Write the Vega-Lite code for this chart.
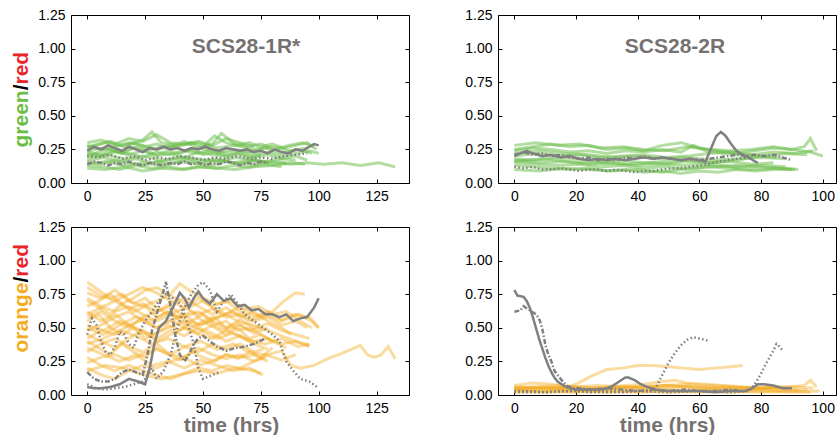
{
"$schema":"https://vega.github.io/schema/vega-lite/v6.json",
"padding":{"left":10,"top":8,"right":0,"bottom":0},
"config":{"font":"Liberation Sans","view":{"stroke":null},"axis":{"grid":false,"domainColor":"#000","domainWidth":1,"tickColor":"#000","tickSize":-4,"labelColor":"#000","labelFont":"Liberation Sans","labelFontSize":14,"titleFont":"Liberation Sans","titleFontSize":21,"titleFontWeight":"bold"},"title":{"font":"Liberation Sans","fontSize":21,"fontWeight":"bold","color":"#767171"}},
"datasets":{
"tlc":[
{"s":"g1","t":0,"v":0.30},{"s":"g1","t":6,"v":0.32},{"s":"g1","t":12,"v":0.29},{"s":"g1","t":18,"v":0.33},{"s":"g1","t":24,"v":0.31},{"s":"g1","t":30,"v":0.36},{"s":"g1","t":36,"v":0.30},{"s":"g1","t":42,"v":0.29},{"s":"g1","t":48,"v":0.31},{"s":"g1","t":54,"v":0.28},{"s":"g1","t":60,"v":0.33},{"s":"g1","t":66,"v":0.30},{"s":"g1","t":72,"v":0.27},
{"s":"g2","t":0,"v":0.27},{"s":"g2","t":5,"v":0.29},{"s":"g2","t":10,"v":0.31},{"s":"g2","t":15,"v":0.28},{"s":"g2","t":20,"v":0.30},{"s":"g2","t":25,"v":0.27},{"s":"g2","t":30,"v":0.29},{"s":"g2","t":35,"v":0.26},{"s":"g2","t":40,"v":0.28},{"s":"g2","t":45,"v":0.30},{"s":"g2","t":50,"v":0.27},{"s":"g2","t":55,"v":0.35},{"s":"g2","t":60,"v":0.30},{"s":"g2","t":65,"v":0.28},{"s":"g2","t":70,"v":0.30},{"s":"g2","t":75,"v":0.27},{"s":"g2","t":80,"v":0.29},{"s":"g2","t":85,"v":0.26},{"s":"g2","t":90,"v":0.28},{"s":"g2","t":95,"v":0.30},{"s":"g2","t":99,"v":0.25},
{"s":"g3","t":0,"v":0.24},{"s":"g3","t":7,"v":0.26},{"s":"g3","t":14,"v":0.23},{"s":"g3","t":21,"v":0.27},{"s":"g3","t":28,"v":0.25},{"s":"g3","t":35,"v":0.28},{"s":"g3","t":42,"v":0.24},{"s":"g3","t":49,"v":0.26},{"s":"g3","t":56,"v":0.22},{"s":"g3","t":63,"v":0.25},{"s":"g3","t":70,"v":0.23},{"s":"g3","t":77,"v":0.26},{"s":"g3","t":84,"v":0.22},{"s":"g3","t":91,"v":0.25},{"s":"g3","t":97,"v":0.22},
{"s":"g4","t":0,"v":0.22},{"s":"g4","t":6,"v":0.20},{"s":"g4","t":12,"v":0.23},{"s":"g4","t":18,"v":0.21},{"s":"g4","t":24,"v":0.24},{"s":"g4","t":30,"v":0.20},{"s":"g4","t":36,"v":0.22},{"s":"g4","t":42,"v":0.19},{"s":"g4","t":48,"v":0.23},{"s":"g4","t":54,"v":0.21},{"s":"g4","t":60,"v":0.20},{"s":"g4","t":66,"v":0.22},{"s":"g4","t":72,"v":0.19},{"s":"g4","t":78,"v":0.21},{"s":"g4","t":84,"v":0.18},{"s":"g4","t":90,"v":0.20},{"s":"g4","t":95,"v":0.17},
{"s":"g5","t":0,"v":0.19},{"s":"g5","t":8,"v":0.21},{"s":"g5","t":16,"v":0.18},{"s":"g5","t":24,"v":0.20},{"s":"g5","t":32,"v":0.17},{"s":"g5","t":40,"v":0.19},{"s":"g5","t":48,"v":0.18},{"s":"g5","t":56,"v":0.16},{"s":"g5","t":64,"v":0.19},{"s":"g5","t":72,"v":0.17},{"s":"g5","t":80,"v":0.15},{"s":"g5","t":88,"v":0.14},{"s":"g5","t":95,"v":0.15},{"s":"g5","t":102,"v":0.14},{"s":"g5","t":110,"v":0.15},{"s":"g5","t":118,"v":0.13},{"s":"g5","t":126,"v":0.15},{"s":"g5","t":133,"v":0.12},
{"s":"g6","t":0,"v":0.16},{"s":"g6","t":6,"v":0.14},{"s":"g6","t":12,"v":0.17},{"s":"g6","t":18,"v":0.15},{"s":"g6","t":24,"v":0.13},{"s":"g6","t":30,"v":0.16},{"s":"g6","t":36,"v":0.14},{"s":"g6","t":42,"v":0.17},{"s":"g6","t":48,"v":0.15},{"s":"g6","t":54,"v":0.13},{"s":"g6","t":60,"v":0.16},{"s":"g6","t":66,"v":0.14},{"s":"g6","t":72,"v":0.17},{"s":"g6","t":78,"v":0.15},
{"s":"g7","t":0,"v":0.13},{"s":"g7","t":7,"v":0.12},{"s":"g7","t":14,"v":0.10},{"s":"g7","t":21,"v":0.13},{"s":"g7","t":28,"v":0.11},{"s":"g7","t":35,"v":0.12},{"s":"g7","t":42,"v":0.10},{"s":"g7","t":49,"v":0.12},{"s":"g7","t":56,"v":0.11},{"s":"g7","t":63,"v":0.13},{"s":"g7","t":70,"v":0.12},{"s":"g7","t":77,"v":0.14},{"s":"g7","t":84,"v":0.12},
{"s":"g8","t":0,"v":0.11},{"s":"g8","t":8,"v":0.10},{"s":"g8","t":16,"v":0.12},{"s":"g8","t":24,"v":0.09},{"s":"g8","t":32,"v":0.11},{"s":"g8","t":40,"v":0.10},{"s":"g8","t":48,"v":0.12},{"s":"g8","t":56,"v":0.11},{"s":"g8","t":64,"v":0.10},{"s":"g8","t":72,"v":0.12},{"s":"g8","t":80,"v":0.13},{"s":"g8","t":88,"v":0.15},{"s":"g8","t":94,"v":0.14},
{"s":"g9","t":0,"v":0.28},{"s":"g9","t":6,"v":0.25},{"s":"g9","t":12,"v":0.27},{"s":"g9","t":18,"v":0.30},{"s":"g9","t":24,"v":0.28},{"s":"g9","t":30,"v":0.25},{"s":"g9","t":36,"v":0.27},{"s":"g9","t":42,"v":0.31},{"s":"g9","t":48,"v":0.26},{"s":"g9","t":54,"v":0.29},{"s":"g9","t":58,"v":0.37},{"s":"g9","t":63,"v":0.30},{"s":"g9","t":69,"v":0.27},{"s":"g9","t":75,"v":0.29},{"s":"g9","t":81,"v":0.25},{"s":"g9","t":87,"v":0.28},{"s":"g9","t":93,"v":0.30},{"s":"g9","t":98,"v":0.27},
{"s":"g10","t":0,"v":0.20},{"s":"g10","t":5,"v":0.23},{"s":"g10","t":10,"v":0.25},{"s":"g10","t":15,"v":0.22},{"s":"g10","t":20,"v":0.26},{"s":"g10","t":25,"v":0.24},{"s":"g10","t":30,"v":0.21},{"s":"g10","t":35,"v":0.24},{"s":"g10","t":40,"v":0.22},{"s":"g10","t":45,"v":0.25},{"s":"g10","t":50,"v":0.21},{"s":"g10","t":55,"v":0.23},{"s":"g10","t":60,"v":0.20},{"s":"g10","t":65,"v":0.22},{"s":"g10","t":70,"v":0.19},{"s":"g10","t":75,"v":0.21},
{"s":"g11","t":0,"v":0.26},{"s":"g11","t":8,"v":0.30},{"s":"g11","t":16,"v":0.27},{"s":"g11","t":24,"v":0.32},{"s":"g11","t":28,"v":0.38},{"s":"g11","t":32,"v":0.30},{"s":"g11","t":40,"v":0.28},{"s":"g11","t":48,"v":0.30},{"s":"g11","t":56,"v":0.26},{"s":"g11","t":64,"v":0.28},{"s":"g11","t":72,"v":0.25},{"s":"g11","t":80,"v":0.27},{"s":"g11","t":88,"v":0.24},{"s":"g11","t":95,"v":0.26},
{"s":"g12","t":0,"v":0.17},{"s":"g12","t":7,"v":0.19},{"s":"g12","t":14,"v":0.16},{"s":"g12","t":21,"v":0.18},{"s":"g12","t":28,"v":0.15},{"s":"g12","t":35,"v":0.17},{"s":"g12","t":42,"v":0.19},{"s":"g12","t":49,"v":0.16},{"s":"g12","t":56,"v":0.18},{"s":"g12","t":63,"v":0.15},{"s":"g12","t":70,"v":0.17},{"s":"g12","t":77,"v":0.16},{"s":"g12","t":84,"v":0.18},{"s":"g12","t":90,"v":0.17},
{"s":"g13","t":0,"v":0.23},{"s":"g13","t":6,"v":0.21},{"s":"g13","t":12,"v":0.24},{"s":"g13","t":18,"v":0.22},{"s":"g13","t":24,"v":0.19},{"s":"g13","t":30,"v":0.23},{"s":"g13","t":36,"v":0.21},{"s":"g13","t":42,"v":0.24},{"s":"g13","t":48,"v":0.22},{"s":"g13","t":54,"v":0.25},{"s":"g13","t":60,"v":0.22},{"s":"g13","t":66,"v":0.24},{"s":"g13","t":72,"v":0.21},{"s":"g13","t":78,"v":0.23},{"s":"g13","t":84,"v":0.20},{"s":"g13","t":90,"v":0.22},{"s":"g13","t":96,"v":0.24},{"s":"g13","t":100,"v":0.22},
{"s":"g14","t":0,"v":0.14},{"s":"g14","t":8,"v":0.16},{"s":"g14","t":16,"v":0.13},{"s":"g14","t":24,"v":0.15},{"s":"g14","t":32,"v":0.13},{"s":"g14","t":40,"v":0.16},{"s":"g14","t":48,"v":0.14},{"s":"g14","t":56,"v":0.17},{"s":"g14","t":64,"v":0.15},{"s":"g14","t":72,"v":0.14},{"s":"g14","t":80,"v":0.16},{"s":"g14","t":86,"v":0.15}
],
"tlk":[
{"s":"k1","t":0,"v":0.24},{"s":"k1","t":3,"v":0.27},{"s":"k1","t":6,"v":0.25},{"s":"k1","t":9,"v":0.28},{"s":"k1","t":12,"v":0.26},{"s":"k1","t":15,"v":0.24},{"s":"k1","t":18,"v":0.27},{"s":"k1","t":21,"v":0.25},{"s":"k1","t":24,"v":0.23},{"s":"k1","t":27,"v":0.26},{"s":"k1","t":30,"v":0.25},{"s":"k1","t":33,"v":0.27},{"s":"k1","t":36,"v":0.25},{"s":"k1","t":39,"v":0.26},{"s":"k1","t":42,"v":0.24},{"s":"k1","t":45,"v":0.26},{"s":"k1","t":48,"v":0.25},{"s":"k1","t":51,"v":0.27},{"s":"k1","t":54,"v":0.25},{"s":"k1","t":57,"v":0.24},{"s":"k1","t":60,"v":0.26},{"s":"k1","t":63,"v":0.25},{"s":"k1","t":66,"v":0.24},{"s":"k1","t":69,"v":0.25},{"s":"k1","t":72,"v":0.23},{"s":"k1","t":75,"v":0.24},{"s":"k1","t":78,"v":0.22},{"s":"k1","t":81,"v":0.25},{"s":"k1","t":84,"v":0.23},{"s":"k1","t":87,"v":0.22},{"s":"k1","t":90,"v":0.25},{"s":"k1","t":93,"v":0.24},{"s":"k1","t":96,"v":0.27},{"s":"k1","t":98,"v":0.29},{"s":"k1","t":100,"v":0.28},
{"s":"k2","t":0,"v":0.14},{"s":"k2","t":3,"v":0.16},{"s":"k2","t":6,"v":0.15},{"s":"k2","t":9,"v":0.13},{"s":"k2","t":12,"v":0.15},{"s":"k2","t":15,"v":0.14},{"s":"k2","t":18,"v":0.16},{"s":"k2","t":21,"v":0.14},{"s":"k2","t":24,"v":0.13},{"s":"k2","t":27,"v":0.15},{"s":"k2","t":30,"v":0.14},{"s":"k2","t":33,"v":0.13},{"s":"k2","t":36,"v":0.15},{"s":"k2","t":39,"v":0.14},{"s":"k2","t":42,"v":0.16},{"s":"k2","t":45,"v":0.14},{"s":"k2","t":48,"v":0.15},{"s":"k2","t":51,"v":0.13},{"s":"k2","t":54,"v":0.15},{"s":"k2","t":57,"v":0.14},{"s":"k2","t":60,"v":0.16},{"s":"k2","t":63,"v":0.15},{"s":"k2","t":66,"v":0.13},{"s":"k2","t":69,"v":0.15},{"s":"k2","t":72,"v":0.14},{"s":"k2","t":75,"v":0.16},{"s":"k2","t":78,"v":0.15},
{"s":"k3","t":0,"v":0.20},{"s":"k3","t":5,"v":0.19},{"s":"k3","t":10,"v":0.21},{"s":"k3","t":15,"v":0.18},{"s":"k3","t":20,"v":0.20},{"s":"k3","t":25,"v":0.17},{"s":"k3","t":30,"v":0.19},{"s":"k3","t":35,"v":0.18},{"s":"k3","t":40,"v":0.20},{"s":"k3","t":45,"v":0.19},{"s":"k3","t":50,"v":0.17},{"s":"k3","t":55,"v":0.19},{"s":"k3","t":60,"v":0.18},{"s":"k3","t":65,"v":0.20},{"s":"k3","t":70,"v":0.18},{"s":"k3","t":75,"v":0.19},{"s":"k3","t":80,"v":0.18},{"s":"k3","t":85,"v":0.20},{"s":"k3","t":90,"v":0.21},{"s":"k3","t":95,"v":0.22}
],
"trc":[
{"s":"h1","t":0,"v":0.28},{"s":"h1","t":7,"v":0.30},{"s":"h1","t":14,"v":0.28},{"s":"h1","t":21,"v":0.29},{"s":"h1","t":28,"v":0.26},{"s":"h1","t":35,"v":0.27},{"s":"h1","t":42,"v":0.25},{"s":"h1","t":49,"v":0.24},{"s":"h1","t":56,"v":0.27},{"s":"h1","t":63,"v":0.25},{"s":"h1","t":70,"v":0.24},{"s":"h1","t":77,"v":0.25},{"s":"h1","t":84,"v":0.27},{"s":"h1","t":90,"v":0.25},{"s":"h1","t":96,"v":0.23},{"s":"h1","t":100,"v":0.20},
{"s":"h2","t":0,"v":0.25},{"s":"h2","t":6,"v":0.27},{"s":"h2","t":12,"v":0.29},{"s":"h2","t":18,"v":0.27},{"s":"h2","t":24,"v":0.28},{"s":"h2","t":30,"v":0.25},{"s":"h2","t":36,"v":0.26},{"s":"h2","t":42,"v":0.24},{"s":"h2","t":48,"v":0.28},{"s":"h2","t":54,"v":0.30},{"s":"h2","t":60,"v":0.26},{"s":"h2","t":66,"v":0.24},{"s":"h2","t":72,"v":0.22},{"s":"h2","t":78,"v":0.24},{"s":"h2","t":84,"v":0.26},{"s":"h2","t":90,"v":0.25},{"s":"h2","t":94,"v":0.27},{"s":"h2","t":96,"v":0.33},{"s":"h2","t":98,"v":0.24},
{"s":"h3","t":0,"v":0.20},{"s":"h3","t":7,"v":0.22},{"s":"h3","t":14,"v":0.20},{"s":"h3","t":21,"v":0.21},{"s":"h3","t":28,"v":0.19},{"s":"h3","t":35,"v":0.20},{"s":"h3","t":42,"v":0.21},{"s":"h3","t":49,"v":0.19},{"s":"h3","t":56,"v":0.20},{"s":"h3","t":63,"v":0.22},{"s":"h3","t":70,"v":0.23},{"s":"h3","t":77,"v":0.21},{"s":"h3","t":84,"v":0.23},{"s":"h3","t":91,"v":0.22},{"s":"h3","t":97,"v":0.24},
{"s":"h4","t":0,"v":0.17},{"s":"h4","t":8,"v":0.15},{"s":"h4","t":16,"v":0.16},{"s":"h4","t":24,"v":0.14},{"s":"h4","t":32,"v":0.15},{"s":"h4","t":40,"v":0.13},{"s":"h4","t":48,"v":0.14},{"s":"h4","t":56,"v":0.16},{"s":"h4","t":64,"v":0.15},{"s":"h4","t":72,"v":0.17},{"s":"h4","t":80,"v":0.20},{"s":"h4","t":88,"v":0.22},{"s":"h4","t":95,"v":0.21},
{"s":"h5","t":0,"v":0.15},{"s":"h5","t":7,"v":0.14},{"s":"h5","t":14,"v":0.13},{"s":"h5","t":21,"v":0.14},{"s":"h5","t":28,"v":0.12},{"s":"h5","t":35,"v":0.13},{"s":"h5","t":42,"v":0.11},{"s":"h5","t":49,"v":0.12},{"s":"h5","t":56,"v":0.10},{"s":"h5","t":63,"v":0.12},{"s":"h5","t":70,"v":0.11},{"s":"h5","t":77,"v":0.10},{"s":"h5","t":84,"v":0.11},{"s":"h5","t":91,"v":0.10},
{"s":"h6","t":0,"v":0.13},{"s":"h6","t":6,"v":0.12},{"s":"h6","t":12,"v":0.11},{"s":"h6","t":18,"v":0.10},{"s":"h6","t":24,"v":0.11},{"s":"h6","t":30,"v":0.09},{"s":"h6","t":36,"v":0.10},{"s":"h6","t":42,"v":0.08},{"s":"h6","t":48,"v":0.09},{"s":"h6","t":54,"v":0.07},{"s":"h6","t":60,"v":0.09},{"s":"h6","t":66,"v":0.08},{"s":"h6","t":72,"v":0.10},{"s":"h6","t":78,"v":0.09},{"s":"h6","t":84,"v":0.10},{"s":"h6","t":90,"v":0.10},
{"s":"h7","t":0,"v":0.22},{"s":"h7","t":8,"v":0.24},{"s":"h7","t":16,"v":0.22},{"s":"h7","t":24,"v":0.21},{"s":"h7","t":32,"v":0.19},{"s":"h7","t":40,"v":0.20},{"s":"h7","t":48,"v":0.18},{"s":"h7","t":56,"v":0.19},{"s":"h7","t":64,"v":0.17},{"s":"h7","t":72,"v":0.18},{"s":"h7","t":80,"v":0.19},{"s":"h7","t":88,"v":0.18},
{"s":"h8","t":0,"v":0.18},{"s":"h8","t":7,"v":0.17},{"s":"h8","t":14,"v":0.19},{"s":"h8","t":21,"v":0.18},{"s":"h8","t":28,"v":0.16},{"s":"h8","t":35,"v":0.17},{"s":"h8","t":42,"v":0.15},{"s":"h8","t":49,"v":0.16},{"s":"h8","t":56,"v":0.17},{"s":"h8","t":63,"v":0.15},{"s":"h8","t":70,"v":0.16},{"s":"h8","t":77,"v":0.14},{"s":"h8","t":84,"v":0.15},
{"s":"h9","t":0,"v":0.10},{"s":"h9","t":8,"v":0.09},{"s":"h9","t":16,"v":0.11},{"s":"h9","t":24,"v":0.10},{"s":"h9","t":32,"v":0.09},{"s":"h9","t":40,"v":0.10},{"s":"h9","t":48,"v":0.08},{"s":"h9","t":56,"v":0.11},{"s":"h9","t":64,"v":0.12},{"s":"h9","t":72,"v":0.13},{"s":"h9","t":80,"v":0.12},{"s":"h9","t":88,"v":0.11},{"s":"h9","t":92,"v":0.10},
{"s":"h10","t":0,"v":0.24},{"s":"h10","t":6,"v":0.26},{"s":"h10","t":12,"v":0.25},{"s":"h10","t":18,"v":0.23},{"s":"h10","t":24,"v":0.24},{"s":"h10","t":30,"v":0.22},{"s":"h10","t":36,"v":0.24},{"s":"h10","t":42,"v":0.23},{"s":"h10","t":48,"v":0.25},{"s":"h10","t":54,"v":0.23},{"s":"h10","t":58,"v":0.28},{"s":"h10","t":62,"v":0.24},{"s":"h10","t":68,"v":0.22},{"s":"h10","t":74,"v":0.21},{"s":"h10","t":80,"v":0.20},{"s":"h10","t":85,"v":0.19},
{"s":"h11","t":0,"v":0.16},{"s":"h11","t":9,"v":0.18},{"s":"h11","t":18,"v":0.16},{"s":"h11","t":27,"v":0.15},{"s":"h11","t":36,"v":0.14},{"s":"h11","t":45,"v":0.15},{"s":"h11","t":54,"v":0.13},{"s":"h11","t":63,"v":0.14},{"s":"h11","t":72,"v":0.12},{"s":"h11","t":81,"v":0.13},{"s":"h11","t":88,"v":0.12}
],
"trk":[
{"s":"k1","t":0,"v":0.20},{"s":"k1","t":2,"v":0.22},{"s":"k1","t":4,"v":0.24},{"s":"k1","t":6,"v":0.22},{"s":"k1","t":9,"v":0.20},{"s":"k1","t":12,"v":0.21},{"s":"k1","t":15,"v":0.19},{"s":"k1","t":18,"v":0.20},{"s":"k1","t":21,"v":0.18},{"s":"k1","t":24,"v":0.17},{"s":"k1","t":27,"v":0.18},{"s":"k1","t":30,"v":0.17},{"s":"k1","t":33,"v":0.18},{"s":"k1","t":36,"v":0.17},{"s":"k1","t":39,"v":0.18},{"s":"k1","t":42,"v":0.19},{"s":"k1","t":45,"v":0.18},{"s":"k1","t":48,"v":0.19},{"s":"k1","t":51,"v":0.18},{"s":"k1","t":54,"v":0.17},{"s":"k1","t":57,"v":0.18},{"s":"k1","t":60,"v":0.17},{"s":"k1","t":62,"v":0.16},{"s":"k1","t":64,"v":0.27},{"s":"k1","t":65.5,"v":0.35},{"s":"k1","t":67,"v":0.38},{"s":"k1","t":68.5,"v":0.35},{"s":"k1","t":70,"v":0.30},{"s":"k1","t":72,"v":0.24},{"s":"k1","t":74,"v":0.21},{"s":"k1","t":76,"v":0.19},{"s":"k1","t":78,"v":0.16},{"s":"k1","t":79,"v":0.15},
{"s":"k2","t":0,"v":0.21},{"s":"k2","t":3,"v":0.23},{"s":"k2","t":6,"v":0.21},{"s":"k2","t":9,"v":0.22},{"s":"k2","t":12,"v":0.20},{"s":"k2","t":15,"v":0.21},{"s":"k2","t":18,"v":0.19},{"s":"k2","t":21,"v":0.18},{"s":"k2","t":24,"v":0.19},{"s":"k2","t":27,"v":0.17},{"s":"k2","t":30,"v":0.18},{"s":"k2","t":33,"v":0.17},{"s":"k2","t":36,"v":0.19},{"s":"k2","t":39,"v":0.18},{"s":"k2","t":42,"v":0.20},{"s":"k2","t":45,"v":0.18},{"s":"k2","t":48,"v":0.19},{"s":"k2","t":51,"v":0.18},{"s":"k2","t":54,"v":0.17},{"s":"k2","t":57,"v":0.18},{"s":"k2","t":60,"v":0.17},{"s":"k2","t":63,"v":0.18},{"s":"k2","t":66,"v":0.19},{"s":"k2","t":69,"v":0.20},{"s":"k2","t":72,"v":0.21},{"s":"k2","t":75,"v":0.20},{"s":"k2","t":78,"v":0.21},{"s":"k2","t":81,"v":0.20},{"s":"k2","t":84,"v":0.21},{"s":"k2","t":87,"v":0.19},{"s":"k2","t":90,"v":0.17},
{"s":"k3","t":0,"v":0.12},{"s":"k3","t":3,"v":0.11},{"s":"k3","t":6,"v":0.12},{"s":"k3","t":9,"v":0.10},{"s":"k3","t":12,"v":0.10},{"s":"k3","t":15,"v":0.11},{"s":"k3","t":18,"v":0.10},{"s":"k3","t":21,"v":0.09},{"s":"k3","t":24,"v":0.10},{"s":"k3","t":27,"v":0.10},{"s":"k3","t":30,"v":0.09},{"s":"k3","t":33,"v":0.10},{"s":"k3","t":36,"v":0.09},{"s":"k3","t":39,"v":0.08},{"s":"k3","t":42,"v":0.09},{"s":"k3","t":45,"v":0.09},{"s":"k3","t":48,"v":0.10},{"s":"k3","t":51,"v":0.11},{"s":"k3","t":54,"v":0.11},{"s":"k3","t":57,"v":0.12},{"s":"k3","t":60,"v":0.13},{"s":"k3","t":63,"v":0.14},{"s":"k3","t":66,"v":0.16},{"s":"k3","t":69,"v":0.17},{"s":"k3","t":72,"v":0.18},{"s":"k3","t":76,"v":0.19}
],
"blc":[
{"s":"o1","t":0,"v":0.84},{"s":"o1","t":5,"v":0.78},{"s":"o1","t":10,"v":0.72},{"s":"o1","t":15,"v":0.75},{"s":"o1","t":20,"v":0.68},{"s":"o1","t":25,"v":0.72},{"s":"o1","t":30,"v":0.65},{"s":"o1","t":35,"v":0.60},{"s":"o1","t":40,"v":0.58},{"s":"o1","t":45,"v":0.62},{"s":"o1","t":50,"v":0.55},{"s":"o1","t":55,"v":0.58},{"s":"o1","t":60,"v":0.50},{"s":"o1","t":65,"v":0.53},{"s":"o1","t":70,"v":0.48},{"s":"o1","t":75,"v":0.50},
{"s":"o2","t":0,"v":0.76},{"s":"o2","t":6,"v":0.72},{"s":"o2","t":12,"v":0.78},{"s":"o2","t":18,"v":0.70},{"s":"o2","t":24,"v":0.66},{"s":"o2","t":30,"v":0.70},{"s":"o2","t":36,"v":0.75},{"s":"o2","t":40,"v":0.83},{"s":"o2","t":44,"v":0.78},{"s":"o2","t":50,"v":0.72},{"s":"o2","t":56,"v":0.68},{"s":"o2","t":62,"v":0.70},{"s":"o2","t":68,"v":0.64},{"s":"o2","t":74,"v":0.66},{"s":"o2","t":80,"v":0.60},{"s":"o2","t":86,"v":0.62},{"s":"o2","t":92,"v":0.55},{"s":"o2","t":97,"v":0.50},
{"s":"o3","t":0,"v":0.70},{"s":"o3","t":5,"v":0.65},{"s":"o3","t":10,"v":0.60},{"s":"o3","t":15,"v":0.68},{"s":"o3","t":20,"v":0.72},{"s":"o3","t":25,"v":0.78},{"s":"o3","t":30,"v":0.80},{"s":"o3","t":35,"v":0.75},{"s":"o3","t":40,"v":0.70},{"s":"o3","t":45,"v":0.66},{"s":"o3","t":50,"v":0.70},{"s":"o3","t":55,"v":0.64},{"s":"o3","t":60,"v":0.60},{"s":"o3","t":65,"v":0.65},{"s":"o3","t":70,"v":0.62},{"s":"o3","t":75,"v":0.58},{"s":"o3","t":80,"v":0.62},{"s":"o3","t":85,"v":0.70},{"s":"o3","t":90,"v":0.76},{"s":"o3","t":94,"v":0.75},
{"s":"o4","t":0,"v":0.62},{"s":"o4","t":6,"v":0.55},{"s":"o4","t":12,"v":0.60},{"s":"o4","t":18,"v":0.52},{"s":"o4","t":24,"v":0.56},{"s":"o4","t":30,"v":0.50},{"s":"o4","t":36,"v":0.55},{"s":"o4","t":42,"v":0.60},{"s":"o4","t":48,"v":0.52},{"s":"o4","t":54,"v":0.55},{"s":"o4","t":60,"v":0.50},{"s":"o4","t":66,"v":0.56},{"s":"o4","t":72,"v":0.50},{"s":"o4","t":78,"v":0.53},{"s":"o4","t":84,"v":0.48},{"s":"o4","t":90,"v":0.45},{"s":"o4","t":96,"v":0.42},
{"s":"o5","t":0,"v":0.55},{"s":"o5","t":5,"v":0.60},{"s":"o5","t":10,"v":0.50},{"s":"o5","t":15,"v":0.45},{"s":"o5","t":20,"v":0.50},{"s":"o5","t":25,"v":0.42},{"s":"o5","t":30,"v":0.46},{"s":"o5","t":35,"v":0.52},{"s":"o5","t":40,"v":0.48},{"s":"o5","t":45,"v":0.55},{"s":"o5","t":50,"v":0.60},{"s":"o5","t":55,"v":0.52},{"s":"o5","t":60,"v":0.55},{"s":"o5","t":65,"v":0.48},{"s":"o5","t":70,"v":0.50},{"s":"o5","t":75,"v":0.45},{"s":"o5","t":80,"v":0.40},{"s":"o5","t":86,"v":0.35},
{"s":"o6","t":0,"v":0.50},{"s":"o6","t":7,"v":0.45},{"s":"o6","t":14,"v":0.52},{"s":"o6","t":21,"v":0.58},{"s":"o6","t":28,"v":0.55},{"s":"o6","t":35,"v":0.62},{"s":"o6","t":42,"v":0.56},{"s":"o6","t":49,"v":0.52},{"s":"o6","t":56,"v":0.58},{"s":"o6","t":63,"v":0.62},{"s":"o6","t":70,"v":0.55},{"s":"o6","t":77,"v":0.60},{"s":"o6","t":84,"v":0.55},{"s":"o6","t":91,"v":0.60},{"s":"o6","t":97,"v":0.55},{"s":"o6","t":100,"v":0.50},
{"s":"o7","t":0,"v":0.45},{"s":"o7","t":6,"v":0.40},{"s":"o7","t":12,"v":0.35},{"s":"o7","t":18,"v":0.42},{"s":"o7","t":24,"v":0.48},{"s":"o7","t":30,"v":0.40},{"s":"o7","t":36,"v":0.45},{"s":"o7","t":42,"v":0.50},{"s":"o7","t":48,"v":0.45},{"s":"o7","t":54,"v":0.42},{"s":"o7","t":60,"v":0.48},{"s":"o7","t":66,"v":0.44},{"s":"o7","t":72,"v":0.40},{"s":"o7","t":78,"v":0.42},{"s":"o7","t":84,"v":0.38},{"s":"o7","t":90,"v":0.40},{"s":"o7","t":96,"v":0.37},
{"s":"o8","t":0,"v":0.40},{"s":"o8","t":5,"v":0.35},{"s":"o8","t":10,"v":0.30},{"s":"o8","t":15,"v":0.38},{"s":"o8","t":20,"v":0.32},{"s":"o8","t":25,"v":0.28},{"s":"o8","t":30,"v":0.35},{"s":"o8","t":35,"v":0.30},{"s":"o8","t":40,"v":0.26},{"s":"o8","t":45,"v":0.32},{"s":"o8","t":50,"v":0.28},{"s":"o8","t":55,"v":0.25},{"s":"o8","t":60,"v":0.30},{"s":"o8","t":65,"v":0.27},{"s":"o8","t":70,"v":0.32},{"s":"o8","t":75,"v":0.28},{"s":"o8","t":80,"v":0.35},
{"s":"o9","t":0,"v":0.35},{"s":"o9","t":7,"v":0.30},{"s":"o9","t":14,"v":0.25},{"s":"o9","t":21,"v":0.30},{"s":"o9","t":28,"v":0.22},{"s":"o9","t":35,"v":0.25},{"s":"o9","t":42,"v":0.20},{"s":"o9","t":49,"v":0.26},{"s":"o9","t":56,"v":0.22},{"s":"o9","t":63,"v":0.18},{"s":"o9","t":70,"v":0.20},{"s":"o9","t":75,"v":0.16},
{"s":"o10","t":0,"v":0.28},{"s":"o10","t":6,"v":0.22},{"s":"o10","t":12,"v":0.18},{"s":"o10","t":18,"v":0.22},{"s":"o10","t":24,"v":0.18},{"s":"o10","t":30,"v":0.15},{"s":"o10","t":36,"v":0.12},{"s":"o10","t":42,"v":0.16},{"s":"o10","t":48,"v":0.20},{"s":"o10","t":54,"v":0.18},{"s":"o10","t":60,"v":0.22},{"s":"o10","t":66,"v":0.20},{"s":"o10","t":72,"v":0.25},{"s":"o10","t":78,"v":0.30},{"s":"o10","t":84,"v":0.33},{"s":"o10","t":88,"v":0.22},{"s":"o10","t":92,"v":0.20},{"s":"o10","t":98,"v":0.22},{"s":"o10","t":104,"v":0.27},{"s":"o10","t":110,"v":0.31},{"s":"o10","t":114,"v":0.34},{"s":"o10","t":118,"v":0.37},{"s":"o10","t":121,"v":0.30},{"s":"o10","t":124,"v":0.28},{"s":"o10","t":127,"v":0.30},{"s":"o10","t":130,"v":0.36},{"s":"o10","t":133,"v":0.27},
{"s":"o11","t":0,"v":0.20},{"s":"o11","t":6,"v":0.15},{"s":"o11","t":12,"v":0.12},{"s":"o11","t":18,"v":0.18},{"s":"o11","t":24,"v":0.22},{"s":"o11","t":30,"v":0.20},{"s":"o11","t":36,"v":0.25},{"s":"o11","t":42,"v":0.28},{"s":"o11","t":48,"v":0.22},{"s":"o11","t":54,"v":0.25},{"s":"o11","t":60,"v":0.30},{"s":"o11","t":66,"v":0.28},{"s":"o11","t":72,"v":0.30},{"s":"o11","t":78,"v":0.25},
{"s":"o12","t":0,"v":0.66},{"s":"o12","t":5,"v":0.70},{"s":"o12","t":10,"v":0.75},{"s":"o12","t":15,"v":0.68},{"s":"o12","t":20,"v":0.62},{"s":"o12","t":25,"v":0.66},{"s":"o12","t":30,"v":0.58},{"s":"o12","t":35,"v":0.62},{"s":"o12","t":40,"v":0.55},{"s":"o12","t":45,"v":0.50},{"s":"o12","t":50,"v":0.55},{"s":"o12","t":55,"v":0.50},{"s":"o12","t":60,"v":0.45},{"s":"o12","t":65,"v":0.50},{"s":"o12","t":70,"v":0.42},{"s":"o12","t":75,"v":0.45},{"s":"o12","t":80,"v":0.40},
{"s":"o13","t":0,"v":0.60},{"s":"o13","t":6,"v":0.65},{"s":"o13","t":12,"v":0.70},{"s":"o13","t":18,"v":0.75},{"s":"o13","t":24,"v":0.80},{"s":"o13","t":30,"v":0.76},{"s":"o13","t":36,"v":0.70},{"s":"o13","t":42,"v":0.65},{"s":"o13","t":48,"v":0.72},{"s":"o13","t":54,"v":0.66},{"s":"o13","t":60,"v":0.70},{"s":"o13","t":66,"v":0.62},{"s":"o13","t":72,"v":0.58},{"s":"o13","t":78,"v":0.62},{"s":"o13","t":84,"v":0.56},{"s":"o13","t":90,"v":0.60},{"s":"o13","t":96,"v":0.58},{"s":"o13","t":100,"v":0.50},
{"s":"o14","t":0,"v":0.52},{"s":"o14","t":7,"v":0.48},{"s":"o14","t":14,"v":0.55},{"s":"o14","t":21,"v":0.50},{"s":"o14","t":28,"v":0.45},{"s":"o14","t":35,"v":0.50},{"s":"o14","t":42,"v":0.55},{"s":"o14","t":49,"v":0.48},{"s":"o14","t":56,"v":0.42},{"s":"o14","t":63,"v":0.46},{"s":"o14","t":70,"v":0.40},{"s":"o14","t":77,"v":0.38},{"s":"o14","t":84,"v":0.42},{"s":"o14","t":91,"v":0.36},{"s":"o14","t":96,"v":0.38},
{"s":"o15","t":0,"v":0.48},{"s":"o15","t":6,"v":0.52},{"s":"o15","t":12,"v":0.58},{"s":"o15","t":18,"v":0.62},{"s":"o15","t":24,"v":0.55},{"s":"o15","t":30,"v":0.50},{"s":"o15","t":36,"v":0.56},{"s":"o15","t":42,"v":0.50},{"s":"o15","t":48,"v":0.46},{"s":"o15","t":54,"v":0.52},{"s":"o15","t":60,"v":0.48},{"s":"o15","t":66,"v":0.52},{"s":"o15","t":72,"v":0.46},{"s":"o15","t":78,"v":0.50},
{"s":"o16","t":0,"v":0.38},{"s":"o16","t":7,"v":0.42},{"s":"o16","t":14,"v":0.48},{"s":"o16","t":21,"v":0.44},{"s":"o16","t":28,"v":0.38},{"s":"o16","t":35,"v":0.42},{"s":"o16","t":42,"v":0.36},{"s":"o16","t":49,"v":0.40},{"s":"o16","t":56,"v":0.34},{"s":"o16","t":63,"v":0.38},{"s":"o16","t":70,"v":0.32},{"s":"o16","t":77,"v":0.30},{"s":"o16","t":84,"v":0.26},{"s":"o16","t":90,"v":0.30},
{"s":"o17","t":0,"v":0.32},{"s":"o17","t":6,"v":0.38},{"s":"o17","t":12,"v":0.42},{"s":"o17","t":18,"v":0.36},{"s":"o17","t":24,"v":0.32},{"s":"o17","t":30,"v":0.38},{"s":"o17","t":36,"v":0.30},{"s":"o17","t":42,"v":0.28},{"s":"o17","t":48,"v":0.35},{"s":"o17","t":54,"v":0.30},{"s":"o17","t":60,"v":0.27},{"s":"o17","t":66,"v":0.30},{"s":"o17","t":72,"v":0.25},{"s":"o17","t":77,"v":0.28},
{"s":"o18","t":0,"v":0.72},{"s":"o18","t":6,"v":0.66},{"s":"o18","t":12,"v":0.62},{"s":"o18","t":18,"v":0.66},{"s":"o18","t":24,"v":0.60},{"s":"o18","t":30,"v":0.55},{"s":"o18","t":36,"v":0.60},{"s":"o18","t":42,"v":0.65},{"s":"o18","t":48,"v":0.60},{"s":"o18","t":54,"v":0.64},{"s":"o18","t":60,"v":0.58},{"s":"o18","t":66,"v":0.60},{"s":"o18","t":72,"v":0.55},{"s":"o18","t":78,"v":0.58},{"s":"o18","t":84,"v":0.52},{"s":"o18","t":90,"v":0.55},{"s":"o18","t":95,"v":0.50},
{"s":"o19","t":0,"v":0.58},{"s":"o19","t":6,"v":0.62},{"s":"o19","t":12,"v":0.55},{"s":"o19","t":18,"v":0.50},{"s":"o19","t":24,"v":0.58},{"s":"o19","t":30,"v":0.62},{"s":"o19","t":36,"v":0.68},{"s":"o19","t":42,"v":0.72},{"s":"o19","t":48,"v":0.66},{"s":"o19","t":54,"v":0.60},{"s":"o19","t":60,"v":0.65},{"s":"o19","t":66,"v":0.58},{"s":"o19","t":72,"v":0.62},{"s":"o19","t":78,"v":0.55},{"s":"o19","t":84,"v":0.50},{"s":"o19","t":88,"v":0.45},
{"s":"o20","t":0,"v":0.42},{"s":"o20","t":6,"v":0.48},{"s":"o20","t":12,"v":0.45},{"s":"o20","t":18,"v":0.52},{"s":"o20","t":24,"v":0.46},{"s":"o20","t":30,"v":0.42},{"s":"o20","t":36,"v":0.48},{"s":"o20","t":42,"v":0.44},{"s":"o20","t":48,"v":0.50},{"s":"o20","t":54,"v":0.46},{"s":"o20","t":60,"v":0.40},{"s":"o20","t":66,"v":0.44},{"s":"o20","t":72,"v":0.38},{"s":"o20","t":78,"v":0.34},
{"s":"o21","t":0,"v":0.24},{"s":"o21","t":6,"v":0.28},{"s":"o21","t":12,"v":0.30},{"s":"o21","t":18,"v":0.26},{"s":"o21","t":24,"v":0.30},{"s":"o21","t":30,"v":0.34},{"s":"o21","t":36,"v":0.30},{"s":"o21","t":42,"v":0.36},{"s":"o21","t":48,"v":0.32},{"s":"o21","t":54,"v":0.38},{"s":"o21","t":60,"v":0.34},{"s":"o21","t":66,"v":0.38},{"s":"o21","t":72,"v":0.32},{"s":"o21","t":76,"v":0.34},
{"s":"o22","t":0,"v":0.80},{"s":"o22","t":6,"v":0.74},{"s":"o22","t":12,"v":0.70},{"s":"o22","t":18,"v":0.64},{"s":"o22","t":24,"v":0.68},{"s":"o22","t":30,"v":0.62},{"s":"o22","t":36,"v":0.66},{"s":"o22","t":42,"v":0.58},{"s":"o22","t":48,"v":0.62},{"s":"o22","t":54,"v":0.56},{"s":"o22","t":60,"v":0.60},{"s":"o22","t":66,"v":0.54},{"s":"o22","t":72,"v":0.52},{"s":"o22","t":78,"v":0.48},{"s":"o22","t":84,"v":0.44},{"s":"o22","t":90,"v":0.40},{"s":"o22","t":96,"v":0.36},
{"s":"o23","t":0,"v":0.18},{"s":"o23","t":8,"v":0.22},{"s":"o23","t":16,"v":0.20},{"s":"o23","t":24,"v":0.15},{"s":"o23","t":32,"v":0.12},{"s":"o23","t":40,"v":0.15},{"s":"o23","t":48,"v":0.18},{"s":"o23","t":56,"v":0.16},{"s":"o23","t":64,"v":0.20},{"s":"o23","t":72,"v":0.18},{"s":"o23","t":76,"v":0.15}
],
"blk":[
{"s":"k1","t":0,"v":0.06},{"s":"k1","t":3,"v":0.05},{"s":"k1","t":6,"v":0.05},{"s":"k1","t":10,"v":0.06},{"s":"k1","t":14,"v":0.08},{"s":"k1","t":18,"v":0.12},{"s":"k1","t":22,"v":0.10},{"s":"k1","t":25,"v":0.08},{"s":"k1","t":27,"v":0.20},{"s":"k1","t":29,"v":0.38},{"s":"k1","t":31,"v":0.50},{"s":"k1","t":34,"v":0.55},{"s":"k1","t":37,"v":0.65},{"s":"k1","t":40,"v":0.76},{"s":"k1","t":42,"v":0.72},{"s":"k1","t":44,"v":0.65},{"s":"k1","t":46,"v":0.72},{"s":"k1","t":48,"v":0.77},{"s":"k1","t":50,"v":0.72},{"s":"k1","t":53,"v":0.68},{"s":"k1","t":56,"v":0.75},{"s":"k1","t":59,"v":0.70},{"s":"k1","t":62,"v":0.72},{"s":"k1","t":65,"v":0.66},{"s":"k1","t":68,"v":0.67},{"s":"k1","t":71,"v":0.63},{"s":"k1","t":74,"v":0.64},{"s":"k1","t":77,"v":0.60},{"s":"k1","t":80,"v":0.60},{"s":"k1","t":83,"v":0.58},{"s":"k1","t":86,"v":0.60},{"s":"k1","t":89,"v":0.55},{"s":"k1","t":92,"v":0.57},{"s":"k1","t":95,"v":0.58},{"s":"k1","t":98,"v":0.65},{"s":"k1","t":100,"v":0.72},
{"s":"k2","t":0,"v":0.17},{"s":"k2","t":3,"v":0.12},{"s":"k2","t":6,"v":0.10},{"s":"k2","t":9,"v":0.10},{"s":"k2","t":12,"v":0.12},{"s":"k2","t":15,"v":0.17},{"s":"k2","t":18,"v":0.19},{"s":"k2","t":21,"v":0.17},{"s":"k2","t":24,"v":0.15},{"s":"k2","t":26,"v":0.30},{"s":"k2","t":28,"v":0.48},{"s":"k2","t":30,"v":0.60},{"s":"k2","t":32,"v":0.72},{"s":"k2","t":34,"v":0.84},{"s":"k2","t":36,"v":0.66},{"s":"k2","t":38,"v":0.45},{"s":"k2","t":40,"v":0.30},{"s":"k2","t":42,"v":0.25},{"s":"k2","t":44,"v":0.30},{"s":"k2","t":46,"v":0.38},{"s":"k2","t":48,"v":0.42},{"s":"k2","t":50,"v":0.44},{"s":"k2","t":53,"v":0.40},{"s":"k2","t":56,"v":0.36},{"s":"k2","t":60,"v":0.33},{"s":"k2","t":64,"v":0.35},{"s":"k2","t":68,"v":0.36},{"s":"k2","t":72,"v":0.38},{"s":"k2","t":77,"v":0.42},
{"s":"k3","t":0,"v":0.45},{"s":"k3","t":2,"v":0.57},{"s":"k3","t":4,"v":0.52},{"s":"k3","t":6,"v":0.40},{"s":"k3","t":8,"v":0.32},{"s":"k3","t":10,"v":0.30},{"s":"k3","t":12,"v":0.36},{"s":"k3","t":14,"v":0.47},{"s":"k3","t":16,"v":0.45},{"s":"k3","t":18,"v":0.38},{"s":"k3","t":20,"v":0.35},{"s":"k3","t":22,"v":0.45},{"s":"k3","t":25,"v":0.55},{"s":"k3","t":28,"v":0.62},{"s":"k3","t":31,"v":0.70},{"s":"k3","t":34,"v":0.75},{"s":"k3","t":37,"v":0.72},{"s":"k3","t":40,"v":0.68},{"s":"k3","t":43,"v":0.55},{"s":"k3","t":46,"v":0.38},{"s":"k3","t":48,"v":0.20},{"s":"k3","t":50,"v":0.12},{"s":"k3","t":53,"v":0.14},{"s":"k3","t":57,"v":0.17},
{"s":"k4","t":0,"v":0.08},{"s":"k4","t":4,"v":0.05},{"s":"k4","t":8,"v":0.04},{"s":"k4","t":12,"v":0.05},{"s":"k4","t":16,"v":0.06},{"s":"k4","t":20,"v":0.08},{"s":"k4","t":24,"v":0.10},{"s":"k4","t":26,"v":0.14},{"s":"k4","t":28,"v":0.20},{"s":"k4","t":30,"v":0.12},{"s":"k4","t":33,"v":0.18},{"s":"k4","t":36,"v":0.30},{"s":"k4","t":39,"v":0.50},{"s":"k4","t":42,"v":0.65},{"s":"k4","t":45,"v":0.75},{"s":"k4","t":48,"v":0.82},{"s":"k4","t":50,"v":0.84},{"s":"k4","t":53,"v":0.78},{"s":"k4","t":56,"v":0.62},{"s":"k4","t":59,"v":0.70},{"s":"k4","t":62,"v":0.75},{"s":"k4","t":65,"v":0.68},{"s":"k4","t":68,"v":0.60},{"s":"k4","t":72,"v":0.55},{"s":"k4","t":76,"v":0.50},{"s":"k4","t":80,"v":0.45},{"s":"k4","t":83,"v":0.40},{"s":"k4","t":86,"v":0.25},{"s":"k4","t":89,"v":0.18},{"s":"k4","t":92,"v":0.12},{"s":"k4","t":96,"v":0.10},{"s":"k4","t":100,"v":0.05}
],
"brc":[
{"s":"p1","t":0,"v":0.05},{"s":"p1","t":10,"v":0.05},{"s":"p1","t":16,"v":0.05},{"s":"p1","t":20,"v":0.08},{"s":"p1","t":25,"v":0.14},{"s":"p1","t":30,"v":0.19},{"s":"p1","t":35,"v":0.20},{"s":"p1","t":40,"v":0.22},{"s":"p1","t":45,"v":0.22},{"s":"p1","t":50,"v":0.21},{"s":"p1","t":55,"v":0.20},{"s":"p1","t":60,"v":0.19},{"s":"p1","t":65,"v":0.20},{"s":"p1","t":70,"v":0.21},{"s":"p1","t":74,"v":0.22},
{"s":"p2","t":0,"v":0.07},{"s":"p2","t":6,"v":0.09},{"s":"p2","t":12,"v":0.08},{"s":"p2","t":18,"v":0.06},{"s":"p2","t":24,"v":0.05},{"s":"p2","t":30,"v":0.06},{"s":"p2","t":36,"v":0.07},{"s":"p2","t":42,"v":0.08},{"s":"p2","t":48,"v":0.10},{"s":"p2","t":52,"v":0.11},{"s":"p2","t":56,"v":0.09},{"s":"p2","t":62,"v":0.08},{"s":"p2","t":68,"v":0.07},{"s":"p2","t":74,"v":0.06},{"s":"p2","t":80,"v":0.05},{"s":"p2","t":86,"v":0.06},{"s":"p2","t":90,"v":0.05},
{"s":"p3","t":0,"v":0.05},{"s":"p3","t":8,"v":0.06},{"s":"p3","t":16,"v":0.05},{"s":"p3","t":24,"v":0.04},{"s":"p3","t":32,"v":0.05},{"s":"p3","t":40,"v":0.06},{"s":"p3","t":48,"v":0.07},{"s":"p3","t":56,"v":0.08},{"s":"p3","t":64,"v":0.07},{"s":"p3","t":72,"v":0.06},{"s":"p3","t":80,"v":0.05},{"s":"p3","t":88,"v":0.06},{"s":"p3","t":94,"v":0.07},{"s":"p3","t":96,"v":0.11},{"s":"p3","t":98,"v":0.06},
{"s":"p4","t":0,"v":0.04},{"s":"p4","t":8,"v":0.03},{"s":"p4","t":16,"v":0.04},{"s":"p4","t":24,"v":0.03},{"s":"p4","t":32,"v":0.04},{"s":"p4","t":40,"v":0.03},{"s":"p4","t":48,"v":0.04},{"s":"p4","t":56,"v":0.03},{"s":"p4","t":64,"v":0.04},{"s":"p4","t":72,"v":0.03},{"s":"p4","t":80,"v":0.04},{"s":"p4","t":88,"v":0.03},{"s":"p4","t":95,"v":0.04},
{"s":"p5","t":0,"v":0.03},{"s":"p5","t":10,"v":0.02},{"s":"p5","t":20,"v":0.03},{"s":"p5","t":30,"v":0.02},{"s":"p5","t":40,"v":0.03},{"s":"p5","t":50,"v":0.02},{"s":"p5","t":60,"v":0.03},{"s":"p5","t":70,"v":0.02},{"s":"p5","t":80,"v":0.03},{"s":"p5","t":90,"v":0.02},{"s":"p5","t":99,"v":0.03},
{"s":"p6","t":0,"v":0.06},{"s":"p6","t":9,"v":0.05},{"s":"p6","t":18,"v":0.06},{"s":"p6","t":27,"v":0.07},{"s":"p6","t":36,"v":0.06},{"s":"p6","t":45,"v":0.05},{"s":"p6","t":54,"v":0.06},{"s":"p6","t":63,"v":0.05},{"s":"p6","t":72,"v":0.04},{"s":"p6","t":81,"v":0.05},{"s":"p6","t":90,"v":0.06},{"s":"p6","t":97,"v":0.05},
{"s":"p7","t":0,"v":0.02},{"s":"p7","t":10,"v":0.03},{"s":"p7","t":20,"v":0.02},{"s":"p7","t":30,"v":0.03},{"s":"p7","t":40,"v":0.02},{"s":"p7","t":50,"v":0.03},{"s":"p7","t":60,"v":0.02},{"s":"p7","t":70,"v":0.03},{"s":"p7","t":80,"v":0.02},{"s":"p7","t":90,"v":0.03},{"s":"p7","t":96,"v":0.02},
{"s":"p8","t":0,"v":0.05},{"s":"p8","t":7,"v":0.06},{"s":"p8","t":14,"v":0.07},{"s":"p8","t":21,"v":0.06},{"s":"p8","t":28,"v":0.05},{"s":"p8","t":35,"v":0.06},{"s":"p8","t":42,"v":0.05},{"s":"p8","t":49,"v":0.07},{"s":"p8","t":56,"v":0.06},{"s":"p8","t":63,"v":0.05},{"s":"p8","t":70,"v":0.06},{"s":"p8","t":77,"v":0.05},{"s":"p8","t":84,"v":0.05},{"s":"p8","t":92,"v":0.04},
{"s":"p9","t":0,"v":0.04},{"s":"p9","t":10,"v":0.05},{"s":"p9","t":20,"v":0.04},{"s":"p9","t":30,"v":0.05},{"s":"p9","t":40,"v":0.06},{"s":"p9","t":50,"v":0.07},{"s":"p9","t":60,"v":0.06},{"s":"p9","t":70,"v":0.05},{"s":"p9","t":80,"v":0.06},{"s":"p9","t":88,"v":0.05}
],
"brk":[
{"s":"k1","t":0,"v":0.78},{"s":"k1","t":1,"v":0.74},{"s":"k1","t":3,"v":0.73},{"s":"k1","t":4,"v":0.70},{"s":"k1","t":5,"v":0.65},{"s":"k1","t":6,"v":0.58},{"s":"k1","t":7,"v":0.50},{"s":"k1","t":8,"v":0.42},{"s":"k1","t":9,"v":0.35},{"s":"k1","t":10,"v":0.28},{"s":"k1","t":11,"v":0.22},{"s":"k1","t":12,"v":0.17},{"s":"k1","t":13,"v":0.13},{"s":"k1","t":14,"v":0.10},{"s":"k1","t":16,"v":0.07},{"s":"k1","t":18,"v":0.05},{"s":"k1","t":20,"v":0.04},{"s":"k1","t":24,"v":0.04},{"s":"k1","t":28,"v":0.04},{"s":"k1","t":30,"v":0.05},{"s":"k1","t":32,"v":0.07},{"s":"k1","t":34,"v":0.10},{"s":"k1","t":36,"v":0.13},{"s":"k1","t":37,"v":0.13},{"s":"k1","t":39,"v":0.11},{"s":"k1","t":41,"v":0.08},{"s":"k1","t":43,"v":0.06},{"s":"k1","t":46,"v":0.04},{"s":"k1","t":50,"v":0.03},{"s":"k1","t":55,"v":0.03},{"s":"k1","t":60,"v":0.03},{"s":"k1","t":65,"v":0.02},{"s":"k1","t":70,"v":0.03},{"s":"k1","t":75,"v":0.03},{"s":"k1","t":77,"v":0.05},{"s":"k1","t":79,"v":0.08},{"s":"k1","t":81,"v":0.08},{"s":"k1","t":84,"v":0.07},{"s":"k1","t":87,"v":0.05},{"s":"k1","t":90,"v":0.05},
{"s":"k2","t":0,"v":0.62},{"s":"k2","t":2,"v":0.63},{"s":"k2","t":3,"v":0.66},{"s":"k2","t":5,"v":0.63},{"s":"k2","t":7,"v":0.60},{"s":"k2","t":8,"v":0.57},{"s":"k2","t":9,"v":0.50},{"s":"k2","t":10,"v":0.38},{"s":"k2","t":11,"v":0.30},{"s":"k2","t":12,"v":0.25},{"s":"k2","t":13,"v":0.18},{"s":"k2","t":15,"v":0.12},{"s":"k2","t":17,"v":0.07},{"s":"k2","t":19,"v":0.05},{"s":"k2","t":21,"v":0.05},{"s":"k2","t":25,"v":0.04},{"s":"k2","t":30,"v":0.05},{"s":"k2","t":35,"v":0.04},{"s":"k2","t":40,"v":0.03},{"s":"k2","t":45,"v":0.04},{"s":"k2","t":50,"v":0.03},{"s":"k2","t":55,"v":0.04},{"s":"k2","t":60,"v":0.03},{"s":"k2","t":65,"v":0.03},{"s":"k2","t":70,"v":0.04},{"s":"k2","t":74,"v":0.03},
{"s":"k3","t":0,"v":0.03},{"s":"k3","t":5,"v":0.03},{"s":"k3","t":10,"v":0.02},{"s":"k3","t":15,"v":0.03},{"s":"k3","t":20,"v":0.03},{"s":"k3","t":25,"v":0.02},{"s":"k3","t":30,"v":0.03},{"s":"k3","t":35,"v":0.02},{"s":"k3","t":40,"v":0.03},{"s":"k3","t":44,"v":0.03},{"s":"k3","t":46,"v":0.06},{"s":"k3","t":48,"v":0.15},{"s":"k3","t":50,"v":0.24},{"s":"k3","t":52,"v":0.31},{"s":"k3","t":54,"v":0.37},{"s":"k3","t":56,"v":0.41},{"s":"k3","t":58,"v":0.43},{"s":"k3","t":60,"v":0.42},{"s":"k3","t":62,"v":0.41},{"s":"k3","t":63,"v":0.40},
{"s":"k4","t":0,"v":0.02},{"s":"k4","t":10,"v":0.02},{"s":"k4","t":20,"v":0.03},{"s":"k4","t":30,"v":0.02},{"s":"k4","t":40,"v":0.03},{"s":"k4","t":50,"v":0.02},{"s":"k4","t":60,"v":0.03},{"s":"k4","t":70,"v":0.02},{"s":"k4","t":76,"v":0.03},{"s":"k4","t":78,"v":0.08},{"s":"k4","t":80,"v":0.16},{"s":"k4","t":82,"v":0.25},{"s":"k4","t":84,"v":0.33},{"s":"k4","t":85,"v":0.38},{"s":"k4","t":86,"v":0.36},{"s":"k4","t":87,"v":0.33}
]
},
"concat":[
{"width":338,"height":168,
 "title":{"text":"SCS28-1R*","frame":"group","offset":-66,"baseline":"alphabetic","dx":6},
 "layer":[
  {"data":{"name":"tlc"},"mark":{"type":"line","color":"#66bb44","opacity":0.5,"strokeWidth":3},
   "encoding":{"x":{"field":"t","type":"quantitative","scale":{"domain":[-7,139],"nice":false,"zero":false},"axis":{"orient":"bottom","values":[0,25,50,75,100,125],"title":null,"labelPadding":10}},
    "y":{"field":"v","type":"quantitative","scale":{"domain":[0,1.25],"nice":false},"axis":{"orient":"left","values":[0,0.25,0.5,0.75,1,1.25],"format":".2f","labelPadding":10,"title":"green","titleColor":"#6abd45","titleX":-44,"titleY":132,"titleAngle":-90,"titleAlign":"left","titleBaseline":"alphabetic"}},
    "detail":{"field":"s"}}},
  {"data":{"name":"tlk"},"transform":[{"filter":{"field":"s","equal":"k1"}}],"mark":{"type":"line","color":"#808080","strokeWidth":2.5},
   "encoding":{"x":{"field":"t","type":"quantitative","scale":{"domain":[-7,139],"nice":false,"zero":false},"axis":{"orient":"top","values":[0,25,50,75,100,125],"labels":false,"title":null}},
    "y":{"field":"v","type":"quantitative","scale":{"domain":[0,1.25],"nice":false},"axis":{"orient":"left","labels":false,"ticks":false,"domain":false,"title":"/","titleColor":"#000","titleX":-44,"titleY":74.8,"titleAngle":-90,"titleAlign":"left","titleBaseline":"alphabetic"}}}},
  {"data":{"name":"tlk"},"transform":[{"filter":{"field":"s","equal":"k2"}}],"mark":{"type":"line","color":"#808080","strokeWidth":2.5,"strokeDash":[5,2,1.5,2]},
   "encoding":{"x":{"field":"t","type":"quantitative","scale":{"domain":[-7,139],"nice":false,"zero":false},"axis":null},
    "y":{"field":"v","type":"quantitative","scale":{"domain":[0,1.25],"nice":false},"axis":{"orient":"left","labels":false,"ticks":false,"domain":false,"title":"red","titleColor":"#e8262a","titleX":-44,"titleY":69,"titleAngle":-90,"titleAlign":"left","titleBaseline":"alphabetic"}}}},
  {"data":{"name":"tlk"},"transform":[{"filter":{"field":"s","equal":"k3"}}],"mark":{"type":"line","color":"#808080","strokeWidth":2.5,"strokeDash":[1.5,2.5]},
   "encoding":{"x":{"field":"t","type":"quantitative","scale":{"domain":[-7,139],"nice":false,"zero":false},"axis":null},
    "y":{"field":"v","type":"quantitative","scale":{"domain":[0,1.25],"nice":false},"axis":{"orient":"right","values":[0,0.25,0.5,0.75,1,1.25],"labels":false,"title":null}}}}
 ],
 "resolve":{"axis":{"x":"independent","y":"independent"}}
},
{"width":338,"height":168,
 "title":{"text":"SCS28-2R","frame":"group","offset":-66,"baseline":"alphabetic","dx":8},
 "layer":[
  {"data":{"name":"trc"},"mark":{"type":"line","color":"#66bb44","opacity":0.5,"strokeWidth":3},
   "encoding":{"x":{"field":"t","type":"quantitative","scale":{"domain":[-5.3,104.3],"nice":false,"zero":false},"axis":{"orient":"bottom","values":[0,20,40,60,80,100],"title":null,"labelPadding":10}},
    "y":{"field":"v","type":"quantitative","scale":{"domain":[0,1.25],"nice":false},"axis":{"orient":"left","values":[0,0.25,0.5,0.75,1,1.25],"format":".2f","labelPadding":10,"title":null}},
    "detail":{"field":"s"}}},
  {"data":{"name":"trk"},"transform":[{"filter":{"field":"s","equal":"k1"}}],"mark":{"type":"line","color":"#808080","strokeWidth":2.5},
   "encoding":{"x":{"field":"t","type":"quantitative","scale":{"domain":[-5.3,104.3],"nice":false,"zero":false},"axis":{"orient":"top","values":[0,20,40,60,80,100],"labels":false,"title":null}},
    "y":{"field":"v","type":"quantitative","scale":{"domain":[0,1.25],"nice":false},"axis":{"orient":"right","values":[0,0.25,0.5,0.75,1,1.25],"labels":false,"title":null}}}},
  {"data":{"name":"trk"},"transform":[{"filter":{"field":"s","equal":"k2"}}],"mark":{"type":"line","color":"#808080","strokeWidth":2.5,"strokeDash":[5,2,1.5,2]},
   "encoding":{"x":{"field":"t","type":"quantitative","scale":{"domain":[-5.3,104.3],"nice":false,"zero":false},"axis":null},
    "y":{"field":"v","type":"quantitative","scale":{"domain":[0,1.25],"nice":false},"axis":null}}},
  {"data":{"name":"trk"},"transform":[{"filter":{"field":"s","equal":"k3"}}],"mark":{"type":"line","color":"#808080","strokeWidth":2.5,"strokeDash":[1.5,2.5]},
   "encoding":{"x":{"field":"t","type":"quantitative","scale":{"domain":[-5.3,104.3],"nice":false,"zero":false},"axis":null},
    "y":{"field":"v","type":"quantitative","scale":{"domain":[0,1.25],"nice":false},"axis":null}}}
 ],
 "resolve":{"axis":{"x":"independent","y":"independent"}}
},
{"width":338,"height":168,
 "layer":[
  {"data":{"name":"blc"},"mark":{"type":"line","color":"#f2aa1c","opacity":0.42,"strokeWidth":3},
   "encoding":{"x":{"field":"t","type":"quantitative","scale":{"domain":[-7,139],"nice":false,"zero":false},"axis":{"orient":"bottom","values":[0,25,50,75,100,125],"labelPadding":10,"title":"time (hrs)","titleColor":"#767171","titleX":160,"titleY":36,"titleBaseline":"alphabetic"}},
    "y":{"field":"v","type":"quantitative","scale":{"domain":[0,1.25],"nice":false},"axis":{"orient":"left","values":[0,0.25,0.5,0.75,1,1.25],"format":".2f","labelPadding":10,"title":"orange","titleColor":"#f5ac1f","titleX":-44,"titleY":125,"titleAngle":-90,"titleAlign":"left","titleBaseline":"alphabetic"}},
    "detail":{"field":"s"}}},
  {"data":{"name":"blk"},"transform":[{"filter":{"field":"s","equal":"k1"}}],"mark":{"type":"line","color":"#808080","strokeWidth":2.5},
   "encoding":{"x":{"field":"t","type":"quantitative","scale":{"domain":[-7,139],"nice":false,"zero":false},"axis":{"orient":"top","values":[0,25,50,75,100,125],"labels":false,"title":null}},
    "y":{"field":"v","type":"quantitative","scale":{"domain":[0,1.25],"nice":false},"axis":{"orient":"left","labels":false,"ticks":false,"domain":false,"title":"/","titleColor":"#000","titleX":-44,"titleY":55,"titleAngle":-90,"titleAlign":"left","titleBaseline":"alphabetic"}}}},
  {"data":{"name":"blk"},"transform":[{"filter":{"field":"s","equal":"k2"}}],"mark":{"type":"line","color":"#808080","strokeWidth":2.5,"strokeDash":[5,2,1.5,2]},
   "encoding":{"x":{"field":"t","type":"quantitative","scale":{"domain":[-7,139],"nice":false,"zero":false},"axis":null},
    "y":{"field":"v","type":"quantitative","scale":{"domain":[0,1.25],"nice":false},"axis":{"orient":"left","labels":false,"ticks":false,"domain":false,"title":"red","titleColor":"#e8262a","titleX":-44,"titleY":49.2,"titleAngle":-90,"titleAlign":"left","titleBaseline":"alphabetic"}}}},
  {"data":{"name":"blk"},"transform":[{"filter":{"field":"s","oneOf":["k3","k4"]}}],"mark":{"type":"line","color":"#808080","strokeWidth":2.5,"strokeDash":[1.5,2.5]},
   "encoding":{"x":{"field":"t","type":"quantitative","scale":{"domain":[-7,139],"nice":false,"zero":false},"axis":null},
    "y":{"field":"v","type":"quantitative","scale":{"domain":[0,1.25],"nice":false},"axis":{"orient":"right","values":[0,0.25,0.5,0.75,1,1.25],"labels":false,"title":null}},
    "detail":{"field":"s"}}}
 ],
 "resolve":{"axis":{"x":"independent","y":"independent"}}
},
{"width":338,"height":168,
 "layer":[
  {"data":{"name":"brc"},"mark":{"type":"line","color":"#f2aa1c","opacity":0.42,"strokeWidth":3},
   "encoding":{"x":{"field":"t","type":"quantitative","scale":{"domain":[-5.3,104.3],"nice":false,"zero":false},"axis":{"orient":"bottom","values":[0,20,40,60,80,100],"labelPadding":10,"title":"time (hrs)","titleColor":"#767171","titleY":36,"titleBaseline":"alphabetic"}},
    "y":{"field":"v","type":"quantitative","scale":{"domain":[0,1.25],"nice":false},"axis":{"orient":"left","values":[0,0.25,0.5,0.75,1,1.25],"format":".2f","labelPadding":10,"title":null}},
    "detail":{"field":"s"}}},
  {"data":{"name":"brk"},"transform":[{"filter":{"field":"s","equal":"k1"}}],"mark":{"type":"line","color":"#808080","strokeWidth":2.5},
   "encoding":{"x":{"field":"t","type":"quantitative","scale":{"domain":[-5.3,104.3],"nice":false,"zero":false},"axis":{"orient":"top","values":[0,20,40,60,80,100],"labels":false,"title":null}},
    "y":{"field":"v","type":"quantitative","scale":{"domain":[0,1.25],"nice":false},"axis":{"orient":"right","values":[0,0.25,0.5,0.75,1,1.25],"labels":false,"title":null}}}},
  {"data":{"name":"brk"},"transform":[{"filter":{"field":"s","equal":"k2"}}],"mark":{"type":"line","color":"#808080","strokeWidth":2.5,"strokeDash":[5,2,1.5,2]},
   "encoding":{"x":{"field":"t","type":"quantitative","scale":{"domain":[-5.3,104.3],"nice":false,"zero":false},"axis":null},
    "y":{"field":"v","type":"quantitative","scale":{"domain":[0,1.25],"nice":false},"axis":null}}},
  {"data":{"name":"brk"},"transform":[{"filter":{"field":"s","oneOf":["k3","k4"]}}],"mark":{"type":"line","color":"#808080","strokeWidth":2.5,"strokeDash":[1.5,2.5]},
   "encoding":{"x":{"field":"t","type":"quantitative","scale":{"domain":[-5.3,104.3],"nice":false,"zero":false},"axis":null},
    "y":{"field":"v","type":"quantitative","scale":{"domain":[0,1.25],"nice":false},"axis":null},
    "detail":{"field":"s"}}}
 ],
 "resolve":{"axis":{"x":"independent","y":"independent"}}
}
],
"columns":2,
"spacing":{"row":44,"column":89},
"bounds":"flush"
}
